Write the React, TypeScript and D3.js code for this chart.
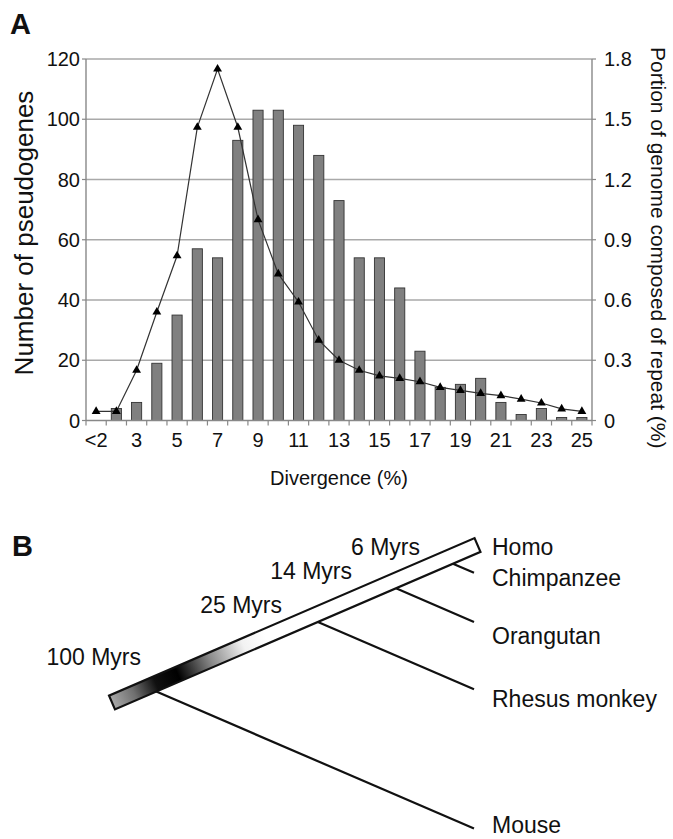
import React from 'react';
import * as d3 from 'd3';

// panel A data
const categories = ['<2', '2', '3', '4', '5', '6', '7', '8', '9', '10', '11', '12', '13',
  '14', '15', '16', '17', '18', '19', '20', '21', '22', '23', '24', '25'];
const pseudogenes = [0, 4, 6, 19, 35, 57, 54, 93, 103, 103, 98, 88, 73,
  54, 54, 44, 23, 11, 12, 14, 6, 2, 4, 1, 1];
const repeatPortion = [0.045, 0.045, 0.25, 0.54, 0.82, 1.46, 1.75, 1.46, 1.0, 0.73, 0.59, 0.4, 0.3,
  0.25, 0.222, 0.21, 0.193, 0.165, 0.15, 0.135, 0.124, 0.106, 0.087, 0.058, 0.045];
const leftTicks = [0, 20, 40, 60, 80, 100, 120];
const rightTicks = ['0', '0.3', '0.6', '0.9', '1.2', '1.5', '1.8'];

// panel B data
const taxa = ['Homo', 'Chimpanzee', 'Orangutan', 'Rhesus monkey', 'Mouse'];
const splitMyrs = [6, 14, 25, 100]; // split of Chimpanzee, Orangutan, Rhesus, Mouse from human lineage

const FONT = '"Liberation Sans", Arial, Helvetica, sans-serif';

const App = () => {
  const W = 673, H = 839;
  const m = { left: 86, right: 592, top: 59, bottom: 420.5 };

  const x = d3.scaleBand().domain(categories).range([m.left, m.right]);
  const yL = d3.scaleLinear().domain([0, 120]).range([m.bottom, m.top]);
  const yR = d3.scaleLinear().domain([0, 1.8]).range([m.bottom, m.top]);
  const cx = (c: string) => (x(c) as number) + x.bandwidth() / 2;
  const barW = x.bandwidth() * 0.5;

  const line = d3.line<number>()
    .x((_, i) => cx(categories[i]))
    .y(d => yR(d));
  const tri = d3.symbol().type(d3.symbolTriangle).size(34)();

  // trunk of the tree (rotated bar) in panel B
  const base: [number, number] = [112, 702.5];
  const tip: [number, number] = [477.5, 545];
  const len = Math.hypot(tip[0] - base[0], tip[1] - base[1]);
  const ang = Math.atan2(tip[1] - base[1], tip[0] - base[0]);
  const half = 7.5;
  const dir = [Math.cos(ang), Math.sin(ang)];
  const nrm = [-Math.sin(ang), Math.cos(ang)]; // points down-right from trunk
  // position along trunk (px from base) for each split time
  const along = d3.scaleLinear().domain([100, 25, 14, 6]).range([45, 221, 306, 368]);
  const branchEndX = 474;
  const branchSlope = Math.tan(-ang);

  const branches = splitMyrs.map((t, i) => {
    const s = along(t);
    const x0 = base[0] + dir[0] * s + nrm[0] * half;
    const y0 = base[1] + dir[1] * s + nrm[1] * half;
    const x1 = branchEndX;
    const y1 = y0 + (x1 - x0) * branchSlope;
    return { taxon: taxa[i + 1], x0, y0, x1, y1 };
  });

  const taxonY = d3.scaleOrdinal<string, number>().domain(taxa).range([547, 578, 636, 699, 825]);
  const myrsPos = d3.scaleOrdinal<number, [number, number]>()
    .domain(splitMyrs)
    .range([[420, 547], [352, 571], [282, 605], [141, 657]]);

  return (
    <svg width={W} height={H} style={{ position: 'absolute', left: 0, top: 0, background: '#fff' }}
      fontFamily={FONT}>
      <defs>
        <linearGradient id="trunkGrad" x1="0" x2="1" y1="0" y2="0">
          <stop offset="0" stopColor="#a8a8a8" />
          <stop offset="0.06" stopColor="#707070" />
          <stop offset="0.12" stopColor="#101010" />
          <stop offset="0.18" stopColor="#000" />
          <stop offset="0.27" stopColor="#8a8a8a" />
          <stop offset="0.36" stopColor="#f2f2f2" />
          <stop offset="0.42" stopColor="#fff" />
          <stop offset="1" stopColor="#fff" />
        </linearGradient>
      </defs>
      <rect width={W} height={H} fill="#fff" />

      {/* Panel A */}
      <text x={10} y={34} fontSize={29} fontWeight="bold" fill="#111">A</text>

      {leftTicks.filter(d => d > 0).map(d => (
        <line key={'g' + d} x1={m.left} x2={m.right} y1={yL(d)} y2={yL(d)} stroke="#a9a9a9" strokeWidth={1.4} />
      ))}

      {pseudogenes.map((v, i) => v > 0 && (
        <rect key={'b' + i} x={cx(categories[i]) - barW / 2} y={yL(v)} width={barW} height={yL(0) - yL(v)}
          fill="#808080" stroke="#333" strokeWidth={0.9} />
      ))}

      {/* axes */}
      <line x1={m.left} x2={m.left} y1={m.top} y2={m.bottom} stroke="#888" strokeWidth={1.4} />
      <line x1={m.right} x2={m.right} y1={m.top} y2={m.bottom} stroke="#888" strokeWidth={1.4} />
      <line x1={m.left} x2={m.right} y1={m.bottom} y2={m.bottom} stroke="#888" strokeWidth={1.4} />
      {d3.range(categories.length + 1).map(i => {
        const xx = m.left + i * x.bandwidth();
        return <line key={'xt' + i} x1={xx} x2={xx} y1={m.bottom} y2={m.bottom + 5} stroke="#888" strokeWidth={1.2} />;
      })}
      {leftTicks.map(d => (
        <line key={'lt' + d} x1={m.left - 4} x2={m.left} y1={yL(d)} y2={yL(d)} stroke="#888" strokeWidth={1.2} />
      ))}
      {rightTicks.map(d => (
        <line key={'rt' + d} x1={m.right} x2={m.right + 4} y1={yR(+d)} y2={yR(+d)} stroke="#888" strokeWidth={1.2} />
      ))}

      <path d={line(repeatPortion) || ''} fill="none" stroke="#333" strokeWidth={1.2} />
      {repeatPortion.map((v, i) => (
        <path key={'m' + i} d={tri || ''} transform={`translate(${cx(categories[i])},${yR(v)})`} fill="#000" />
      ))}

      {leftTicks.map(d => (
        <text key={'ll' + d} x={m.left - 6} y={yL(d)} dy="0.36em" textAnchor="end" fontSize={20} fill="#111">{d}</text>
      ))}
      {rightTicks.map(d => (
        <text key={'rl' + d} x={m.right + 12} y={yR(+d)} dy="0.36em" textAnchor="start" fontSize={20} fill="#111">{d}</text>
      ))}
      {categories.map((c, i) => i % 2 === 0 && (
        <text key={'xl' + c} x={cx(c)} y={447} textAnchor="middle" fontSize={20} fill="#111">{c}</text>
      ))}

      <text x={(m.left + m.right) / 2} y={485} textAnchor="middle" fontSize={20} fill="#111">Divergence (%)</text>
      <text transform={`translate(33,233) rotate(-90)`} textAnchor="middle" fontSize={26} fill="#111">
        Number of pseudogenes
      </text>
      <text transform={`translate(651,${(m.top + m.bottom) / 2 + 8}) rotate(90)`} textAnchor="middle" fontSize={21} fill="#111">
        Portion of genome composed of repeat (%)
      </text>

      {/* Panel B */}
      <text x={12} y={556} fontSize={29} fontWeight="bold" fill="#111">B</text>

      {branches.map(b => (
        <line key={b.taxon} x1={b.x0} y1={b.y0} x2={b.x1} y2={b.y1} stroke="#111" strokeWidth={2.2} />
      ))}
      <g transform={`translate(${base[0]},${base[1]}) rotate(${(ang * 180) / Math.PI})`}>
        <rect x={0} y={-half} width={len} height={half * 2} fill="url(#trunkGrad)" stroke="#111" strokeWidth={2.2} />
      </g>

      {taxa.map(t => (
        <text key={t} x={492} y={taxonY(t)} dy="0.36em" fontSize={23} fill="#111">{t}</text>
      ))}
      {splitMyrs.map(t => {
        const [lx, ly] = myrsPos(t);
        return <text key={'my' + t} x={lx} y={ly} dy="0.36em" textAnchor="end" fontSize={23} fill="#111">{`${t} Myrs`}</text>;
      })}
    </svg>
  );
};

export default App;
